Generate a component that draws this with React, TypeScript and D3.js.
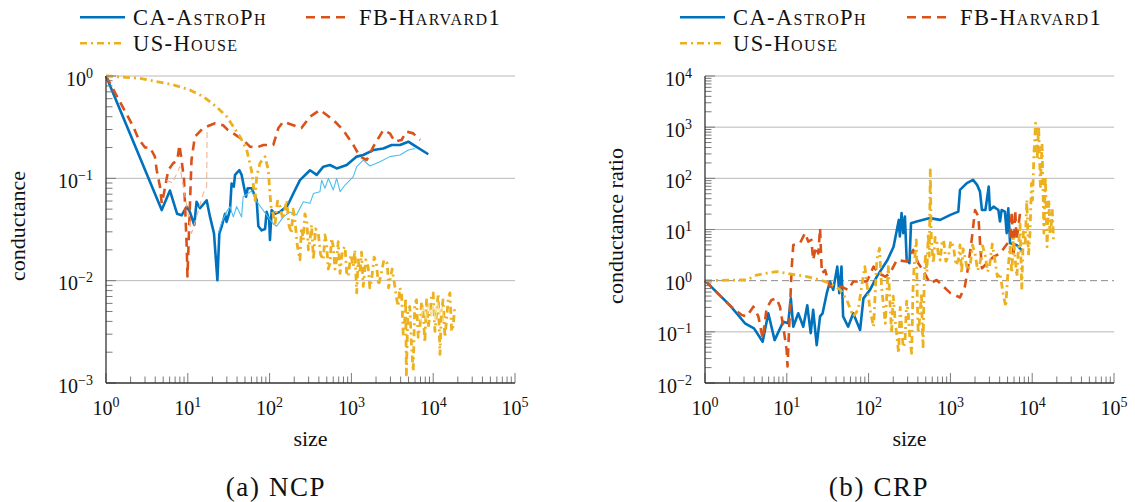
import * as d3 from 'd3';
import React, { useEffect, useRef } from 'react';

const sizeTicks = [1, 10, 100, 1000, 10000, 100000];
const ncpTicks = [0.001, 0.01, 0.1, 1];
const crpTicks = [0.01, 0.1, 1, 10, 100, 1000, 10000];
const seriesNames = ['CA-AstroPh', 'FB-Harvard1', 'US-House'];

// NCP: [size, conductance]
const ncpAstro = [
  [1, 1], [4.8, 0.049], [6.05, 0.076], [7.4, 0.045], [8.4, 0.0435], [9.7, 0.053], [10.6, 0.047], [12, 0.035],
  [12.8, 0.059], [14.1, 0.051], [17, 0.061], [18.7, 0.042], [20.9, 0.029], [23, 0.0101], [24.3, 0.029], [26, 0.034],
  [28.5, 0.045], [29.8, 0.0375], [32.8, 0.049], [34.3, 0.089], [36.5, 0.083], [37.8, 0.108], [42.7, 0.12], [45.5, 0.108],
  [48.5, 0.083], [51.5, 0.066], [54, 0.08], [60.4, 0.08], [69.5, 0.061], [72.9, 0.034], [80, 0.031], [88, 0.032],
  [92, 0.047], [99, 0.039], [101, 0.025], [106, 0.049], [116, 0.045], [134, 0.047], [162, 0.053], [178, 0.061],
  [195, 0.071], [235, 0.096], [312, 0.12], [376, 0.108], [454, 0.13], [547, 0.135], [661, 0.125], [876, 0.135],
  [1161, 0.163], [1395, 0.169], [1854, 0.189], [2455, 0.196], [3106, 0.212], [3927, 0.212], [4966, 0.228],
  [5717, 0.212], [8710, 0.172]
];
const ncpAstroAlt = [
  [23.6, 0.029], [26, 0.0375], [29.8, 0.047], [32.8, 0.053], [36, 0.042], [39.5, 0.053], [45.5, 0.042], [47.5, 0.066],
  [60, 0.075], [69, 0.06], [100, 0.04], [111, 0.036], [122, 0.034], [147, 0.042], [178, 0.047], [214, 0.044],
  [258, 0.059], [312, 0.057], [343, 0.071], [412, 0.074], [433, 0.096], [475, 0.08], [523, 0.1], [600, 0.077],
  [661, 0.1], [727, 0.074], [836, 0.086], [1055, 0.104], [1161, 0.13], [1395, 0.151], [1684, 0.132], [2235, 0.145],
  [2955, 0.163], [3927, 0.169], [4966, 0.189], [5975, 0.196]
];
const ncpHarvard = [
  [1, 1], [2.16, 0.32], [2.48, 0.246], [3, 0.2], [3.45, 0.2], [3.96, 0.163], [4.17, 0.12], [4.57, 0.083], [4.8, 0.057],
  [5.1, 0.071], [5.77, 0.12], [6.6, 0.14], [7.45, 0.151], [7.9, 0.212], [8.4, 0.151], [9, 0.096], [9.2, 0.061],
  [9.7, 0.0215], [9.9, 0.011], [10.6, 0.053], [11.1, 0.151], [12.2, 0.255], [15.4, 0.31], [21.5, 0.345], [27, 0.33],
  [31, 0.296], [36, 0.275], [47.5, 0.237], [57.5, 0.204], [69.5, 0.2], [84, 0.212], [111, 0.212], [128, 0.31],
  [147, 0.358], [195, 0.33], [245, 0.31], [312, 0.4], [412, 0.466], [600, 0.372], [794, 0.296], [1055, 0.212],
  [1273, 0.163], [1540, 0.151], [1854, 0.204], [2455, 0.296], [2955, 0.275], [3400, 0.228], [4100, 0.237],
  [4700, 0.286], [5700, 0.275], [6900, 0.237]
];
const ncpHarvardAlt = [
  [5.5, 0.096], [6.5, 0.09], [8, 0.13], [10.1, 0.045], [11.1, 0.029], [12.8, 0.042], [15.4, 0.071], [17, 0.083],
  [17.2, 0.286]
];
const ncpHouse = [
  [1, 1], [2.6, 0.95], [6.6, 0.82], [10.6, 0.73], [15.4, 0.63], [22.5, 0.5], [30, 0.4], [36, 0.32], [43.5, 0.255],
  [52.5, 0.19], [60, 0.12], [63, 0.089], [66.5, 0.061], [69.5, 0.104], [76, 0.14], [88, 0.163], [96.5, 0.12],
  [101, 0.071], [105, 0.05], [111, 0.045], [116, 0.034], [125, 0.06], [134, 0.053], [145, 0.04], [162, 0.061],
  [172, 0.035], [185, 0.029], [194, 0.05], [204, 0.039], [218, 0.022], [235, 0.016], [245, 0.033], [258, 0.025],
  [270, 0.045], [285, 0.039], [298, 0.02], [312, 0.025], [326, 0.035], [343, 0.016], [365, 0.032], [394, 0.029],
  [420, 0.018], [454, 0.016], [475, 0.028], [498, 0.023], [520, 0.013], [547, 0.0147], [572, 0.026], [600, 0.0215],
  [630, 0.013], [661, 0.016], [690, 0.024], [727, 0.0118], [780, 0.02], [836, 0.0215], [875, 0.012], [918, 0.011],
  [980, 0.018], [1055, 0.0137], [1100, 0.02], [1161, 0.0076], [1210, 0.016], [1273, 0.0118], [1330, 0.019],
  [1395, 0.0088], [1500, 0.016], [1600, 0.0137], [1680, 0.0085], [1760, 0.0101], [1900, 0.017], [2020, 0.0147],
  [2150, 0.009], [2320, 0.0118], [2500, 0.016], [2745, 0.0147], [2850, 0.0085], [2955, 0.0101], [3150, 0.013],
  [3400, 0.0088], [3550, 0.0068], [3730, 0.0056], [3900, 0.0085], [4100, 0.0076], [4300, 0.003], [4500, 0.0042],
  [4600, 0.0068], [4700, 0.0012], [4900, 0.005], [5170, 0.0056], [5400, 0.0025], [5700, 0.0013], [5950, 0.006],
  [6250, 0.0065], [6550, 0.0028], [6900, 0.0036], [7200, 0.0062], [7550, 0.0048], [7900, 0.0025], [8300, 0.0065],
  [8700, 0.0035], [9150, 0.0048], [9550, 0.0072], [10000, 0.0076], [10500, 0.0032], [11000, 0.0048], [11500, 0.0075],
  [12100, 0.0019], [12600, 0.005], [13200, 0.0065], [13900, 0.0028], [14600, 0.0042], [15300, 0.0068], [16000, 0.0076],
  [16800, 0.0032], [17600, 0.0036], [18300, 0.0056]
];
const ncpHouseAlt = [
  [7000, 0.004], [7600, 0.0055], [8200, 0.0042], [8800, 0.006], [9400, 0.0045], [10000, 0.0058], [10700, 0.004],
  [11300, 0.0062], [12000, 0.0047], [12800, 0.0055], [13500, 0.004]
];

// CRP: [size, conductance ratio]
const crpAstro = [
  [1, 1], [2.02, 0.33], [3.08, 0.147], [3.97, 0.117], [5.07, 0.064], [5.94, 0.23], [7.1, 0.069], [9.05, 0.158],
  [10.4, 0.147], [11.2, 0.45], [12, 0.126], [13.8, 0.23], [15.9, 0.126], [17.8, 0.33], [19.6, 0.094], [21, 0.27],
  [23.2, 0.055], [25.5, 0.2], [27.4, 0.23], [30.8, 0.57], [33.7, 0.96], [36.9, 0.66], [41.4, 1.88], [43.8, 0.57],
  [46.6, 1.88], [48.8, 0.2], [56.2, 0.126], [64.9, 0.23], [78.7, 0.109], [86.5, 0.45], [104, 0.66], [126, 1.2],
  [170, 2.54], [202, 4.6], [234, 15.4], [241, 7.3], [253, 20.9], [265, 8.5], [278, 17.9], [292, 2.54], [316, 2.2],
  [330, 13.3], [387, 14.3], [562, 16.7], [750, 15.4], [1000, 19.3], [1250, 22.4], [1310, 59.6], [1590, 80.5],
  [1890, 93.5], [2120, 74.5], [2300, 55], [2430, 24], [2680, 24], [2940, 69], [3040, 24], [3370, 28], [3860, 24],
  [4040, 14.3], [4230, 24], [4640, 22.4], [4880, 8.5], [5100, 26], [5360, 5.4], [6440, 5], [7780, 3.7]
];
const crpHarvard = [
  [1, 1], [2, 0.33], [2.81, 0.213], [3.23, 0.2], [3.9, 0.31], [4.49, 0.2], [5.07, 0.074], [5.67, 0.29], [6.5, 0.42],
  [7.5, 0.45], [8.25, 0.31], [9.05, 0.126], [9.96, 0.044], [10.2, 0.021], [10.7, 0.126], [11.5, 1.88], [12, 5],
  [14.5, 5.4], [16.7, 8.5], [18.3, 5.8], [20, 6.25], [21, 2.54], [22.7, 4.6], [24.3, 3.4], [25.5, 10.6], [26.8, 1.4],
  [29.4, 1.6], [33.7, 0.76], [40.6, 0.76], [46.6, 0.76], [56.2, 0.66], [64.9, 0.96], [78.7, 0.96], [95.3, 0.96],
  [115, 1.88], [132, 1.4], [160, 1.2], [183, 1.4], [221, 2.54], [292, 2.36], [351, 4], [404, 2.2], [463, 1.6],
  [562, 0.89], [680, 1.03], [826, 0.76], [1000, 0.57], [1310, 0.47], [1500, 0.76], [1650, 1.88], [1820, 6.25],
  [2000, 24], [2200, 17.9], [2320, 4.6], [2430, 1.75], [2800, 2.2], [3370, 2.95], [4040, 3.4], [4640, 4.6],
  [5360, 6.25], [5630, 22.4], [5900, 2.95], [6200, 24], [6440, 6.25], [7100, 20.9]
];
const crpHouse = [
  [1, 1], [2.68, 1.03], [3.23, 1.03], [4.29, 1.29], [5.67, 1.4], [7.5, 1.5], [9.96, 1.4], [13.2, 1.29], [17.5, 1.2],
  [25.5, 1.03], [33.7, 0.89], [45.2, 0.66], [54.1, 0.42], [64.9, 0.2], [74.6, 0.27], [82.1, 0.76], [90, 1.88],
  [104, 0.27], [115, 0.126], [126, 2.54], [136, 4.3], [144, 0.76], [160, 0.147], [174, 1.88], [182, 0.4], [191, 0.094],
  [200, 0.5], [211, 0.17], [222, 0.08], [233, 0.038], [243, 0.3], [253, 0.126], [265, 0.05], [278, 0.06], [292, 0.4],
  [306, 0.23], [320, 0.07], [336, 0.038], [348, 0.6], [360, 1.88], [383, 6.25], [393, 0.5], [404, 0.094], [423, 0.2],
  [443, 0.57], [452, 0.15], [463, 0.051], [480, 1.2], [497, 3.4], [516, 1.5], [536, 8.5], [552, 3], [568, 146],
  [580, 10], [592, 4.6], [620, 2.2], [650, 7], [680, 6.25], [715, 3], [750, 2.54], [790, 5.5], [826, 6.25], [880, 2.4],
  [947, 2.95], [1010, 6], [1090, 4.6], [1170, 2], [1250, 2.54], [1310, 5], [1370, 1.4], [1430, 4.2], [1500, 2.95],
  [1620, 1.6], [1740, 1.88], [1860, 5], [2000, 3.4], [2150, 1.6], [2300, 2.2], [2480, 4.8], [2680, 2.95], [2850, 1.5],
  [3000, 1.88], [3250, 5.2], [3500, 2.54], [3750, 1.2], [4040, 1.4], [4400, 0.57], [4750, 0.31], [5100, 1.88],
  [5350, 4.5], [5630, 1.4], [5900, 7], [6200, 2.54], [6500, 1.2], [6800, 4.6], [7100, 13], [7450, 0.66], [7800, 9],
  [8200, 5.4], [8600, 38], [9000, 3], [9400, 8.5], [9800, 80], [10100, 38], [10500, 300], [11000, 1200], [11500, 230],
  [12000, 1030], [12600, 69], [13200, 490], [13900, 8.5], [14500, 108], [15200, 4.6], [16000, 38], [16500, 8],
  [17100, 11.4], [17600, 25], [18200, 6.25]
];

const font = "'Liberation Serif', 'Times New Roman', serif";
const colors = { astro: '#0072BD', astroAlt: '#4DBEEE', harvard: '#D95319', harvardAlt: '#F0B494', house: '#EDB120', houseAlt: '#F6DC8C' };
const styles = [
  { color: colors.astro, dash: null },
  { color: colors.harvard, dash: '9,6' },
  { color: colors.house, dash: '7,4,2,4' }
];

function powLabel(text, v) {
  const e = Math.round(Math.log10(v));
  text.append('tspan').text('10');
  text.append('tspan').attr('dy', -8).attr('font-size', 14).text(e < 0 ? '\u2212' + (-e) : String(e));
}

function drawPanel(svg, cfg) {
  const top = 76, bottom = 383;
  const x = d3.scaleLog().domain([1, 1e5]).range(cfg.xRange);
  const y = d3.scaleLog().domain(cfg.yDomain).range([bottom, top]);
  const [x0, x1] = cfg.xRange;
  const g = svg.append('g').attr('font-family', font).attr('fill', '#111');

  // grid
  cfg.grid.forEach(v => {
    g.append('line').attr('x1', x0).attr('x2', x1).attr('y1', y(v)).attr('y2', y(v))
      .attr('stroke', '#b8b8b8').attr('stroke-width', 1);
  });
  (cfg.dashedGrid || []).forEach(v => {
    g.append('line').attr('x1', x0).attr('x2', x1).attr('y1', y(v)).attr('y2', y(v))
      .attr('stroke', '#8a8a8a').attr('stroke-width', 1).attr('stroke-dasharray', '7,4');
  });

  // series
  const line = d3.line().x(d => x(d[0])).y(d => y(d[1]));
  cfg.series.forEach(s => {
    g.append('path').datum(s.data).attr('d', line).attr('fill', 'none')
      .attr('stroke', s.color).attr('stroke-width', s.width)
      .attr('stroke-dasharray', s.dash).attr('stroke-linejoin', 'round');
  });

  // ticks
  const minor = (lo, hi) => {
    const out = [];
    for (let e = lo; e < hi; e++) for (let k = 2; k <= 9; k++) out.push(k * Math.pow(10, e));
    return out;
  };
  const [ly0, ly1] = cfg.yDomain.map(v => Math.round(Math.log10(v)));
  minor(0, 5).forEach(v => {
    g.append('line').attr('x1', x(v)).attr('x2', x(v)).attr('y1', bottom).attr('y2', bottom - 6.5).attr('stroke', '#7a7a7a');
  });
  sizeTicks.forEach(v => {
    g.append('line').attr('x1', x(v)).attr('x2', x(v)).attr('y1', bottom).attr('y2', bottom - 10).attr('stroke', '#7a7a7a');
  });
  minor(ly0, ly1).forEach(v => {
    g.append('line').attr('x1', x0).attr('x2', x0 + 6.5).attr('y1', y(v)).attr('y2', y(v)).attr('stroke', '#7a7a7a');
  });
  cfg.yTicks.forEach(v => {
    g.append('line').attr('x1', x0).attr('x2', x0 + 10).attr('y1', y(v)).attr('y2', y(v)).attr('stroke', '#7a7a7a');
  });

  // axis lines
  g.append('line').attr('x1', x0).attr('x2', x0).attr('y1', top).attr('y2', bottom).attr('stroke', '#333').attr('stroke-width', 1.3);
  g.append('line').attr('x1', x0).attr('x2', x1).attr('y1', bottom).attr('y2', bottom).attr('stroke', '#333').attr('stroke-width', 1.3);

  // tick labels
  sizeTicks.forEach(v => {
    const t = g.append('text').attr('x', x(v)).attr('y', 415).attr('text-anchor', 'middle').attr('font-size', 20);
    powLabel(t, v);
  });
  cfg.yTicks.forEach(v => {
    const t = g.append('text').attr('x', x0 - 13).attr('y', y(v) + 9.5).attr('text-anchor', 'end').attr('font-size', 20);
    powLabel(t, v);
  });

  // axis labels
  g.append('text').attr('x', (x0 + x1) / 2).attr('y', 446).attr('text-anchor', 'middle')
    .attr('font-size', 22).text('size');
  g.append('text').attr('transform', `translate(${cfg.yLabelX},226) rotate(-90)`).attr('text-anchor', 'middle')
    .attr('font-size', 22).text(cfg.yLabel);
  g.append('text').attr('x', cfg.captionX).attr('y', 496).attr('text-anchor', 'middle')
    .attr('font-size', 27).attr('letter-spacing', 1.6).text(cfg.caption);

  // legend
  cfg.legend.forEach((p, i) => {
    const st = styles[i];
    g.append('line').attr('x1', p[0]).attr('x2', p[0] + 45).attr('y1', p[1]).attr('y2', p[1])
      .attr('stroke', st.color).attr('stroke-width', 2.5).attr('stroke-dasharray', st.dash);
    g.append('text').attr('x', p[0] + 53).attr('y', p[1] + 7.8).attr('font-size', 22.5)
      .attr('letter-spacing', 1.4).attr('font-variant', 'small-caps').text(seriesNames[i]);
  });
}

const App = () => {
  const ref = useRef(null);

  useEffect(() => {
    const svg = d3.select(ref.current);
    svg.selectAll('*').remove();

    drawPanel(svg, {
      xRange: [106, 515],
      yDomain: [1e-3, 1],
      yTicks: ncpTicks,
      grid: [1e-2, 1e-1, 1],
      yLabel: 'conductance',
      yLabelX: 25,
      caption: '(a) NCP',
      captionX: 276,
      legend: [[80, 17.3], [306, 17.3], [80, 43.3]],
      series: [
        { data: ncpAstro, color: colors.astro, width: 2.6, dash: null },
        { data: ncpAstroAlt, color: colors.astroAlt, width: 1.1, dash: null },
        { data: ncpHarvard, color: colors.harvard, width: 2.6, dash: '9,6' },
        { data: ncpHarvardAlt, color: colors.harvardAlt, width: 1.1, dash: '6,4' },
        { data: ncpHouse, color: colors.house, width: 2.8, dash: '7,4,2,4' },
        { data: ncpHouseAlt, color: colors.houseAlt, width: 1.1, dash: null }
      ]
    });

    drawPanel(svg, {
      xRange: [705, 1114],
      yDomain: [1e-2, 1e4],
      yTicks: crpTicks,
      grid: [1e-1, 10, 100, 1000, 1e4],
      dashedGrid: [1],
      yLabel: 'conductance ratio',
      yLabelX: 623,
      caption: '(b) CRP',
      captionX: 879,
      legend: [[680, 17.3], [907, 17.3], [680, 43.3]],
      series: [
        { data: crpAstro, color: colors.astro, width: 2.6, dash: null },
        { data: crpHarvard, color: colors.harvard, width: 2.6, dash: '9,6' },
        { data: crpHouse, color: colors.house, width: 2.8, dash: '7,4,2,4' }
      ]
    });
  }, []);

  return (
    <svg ref={ref} width={1135} height={502} style={{ position: 'absolute', left: 0, top: 0, background: '#fff' }} />
  );
};

export default App;
